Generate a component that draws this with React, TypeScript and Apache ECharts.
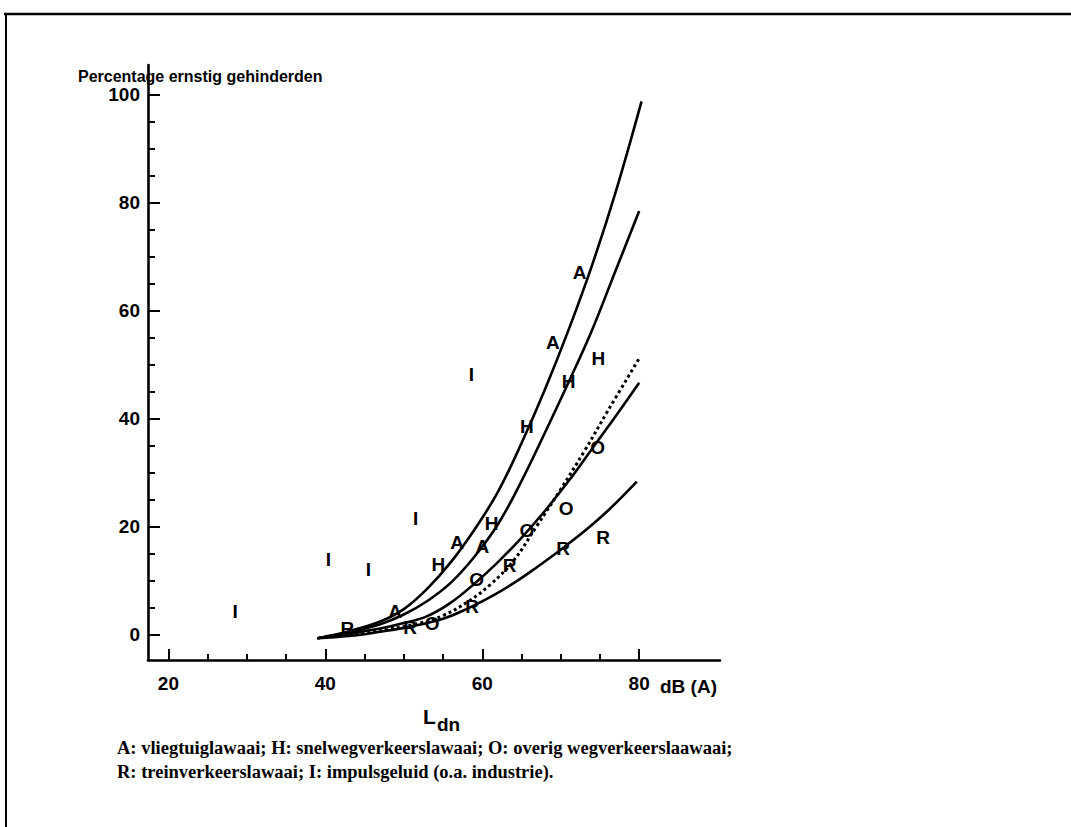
import React, { useEffect, useRef } from "react";
import * as echarts from "echarts";

// ---- Data ----
const xMajorTicks = [20, 40, 60, 80];
const xMinorTicks = [25, 30, 35, 45, 50, 55, 65, 70, 75];
const yMajorTicks = [0, 20, 40, 60, 80, 100];
const yMinorTicks = [5, 10, 15, 25, 30, 35, 45, 50, 55, 65, 70, 75, 85, 90, 95];

// fitted curves (x = Ldn dB(A), y = % highly annoyed)
const curveA = [[39, -0.6], [43, 0.7], [47, 2.5], [50, 4.8], [53, 8.6], [56, 13.5], [59, 19.5], [62, 26.5], [65, 35.5], [68, 45.5], [71, 56.5], [74, 68.5], [77, 82], [80.3, 98.8]];
const curveH = [[39, -0.6], [43, 0.5], [47, 2], [50, 3.8], [53, 6.3], [56, 9.7], [59, 14.5], [62, 20.5], [65, 28.5], [68, 37.5], [71, 46.8], [74, 56.5], [77, 67.5], [80, 78.5]];
const curveO = [[39, -0.6], [43, 0.3], [47, 1.2], [50, 2.2], [53, 3.5], [56, 6], [59, 9.5], [62, 13.5], [65, 18], [68, 23], [71, 28.5], [74, 34.5], [77, 40.5], [80, 46.7]];
const curveDotted = [[40, -0.3], [44, 0.3], [48, 1.1], [52, 2.2], [55, 3.6], [58, 6.0], [61, 9.3], [64, 13.8], [67, 20.3], [70, 27], [73, 34], [76, 41.5], [80, 51.2]];
const curveR = [[39, -0.6], [43, -0.2], [47, 0.6], [51, 1.6], [55, 3.0], [58, 4.8], [61, 7.0], [64, 9.6], [67, 12.6], [70, 15.8], [73, 19.2], [76, 23], [79.7, 28.4]];

// observed points, labelled by source letter
const pointsA = [[72.4, 67.2], [69.0, 54.1], [56.8, 17.2], [60.0, 16.3], [48.9, 4.3]];
const pointsH = [[74.8, 51.2], [71.0, 46.9], [65.7, 38.6], [61.2, 20.6], [54.4, 13.0]];
const pointsO = [[74.7, 34.8], [70.7, 23.5], [65.7, 19.4], [59.3, 10.2], [53.6, 2.2]];
const pointsR = [[75.4, 18.1], [70.3, 16.1], [63.5, 12.8], [58.7, 5.2], [50.8, 1.3], [42.8, 1.2]];
const pointsI = [[28.5, 4.3], [40.4, 13.9], [45.5, 12.2], [51.5, 21.5], [58.6, 48.3]];

const titleText = "Percentage ernstig gehinderden";
const unitText = "dB (A)";
const legendLine1 = "A: vliegtuiglawaai; H: snelwegverkeerslawaai; O: overig wegverkeerslaawaai;";
const legendLine2 = "R: treinverkeerslawaai; I: impulsgeluid (o.a. industrie).";

const SANS = "'Liberation Sans', Arial, Helvetica, sans-serif";
const SERIF = "'Liberation Serif', 'Times New Roman', serif";

function curveSeries(data: number[][], dotted = false) {
  return {
    type: "line",
    data,
    smooth: 0.4,
    showSymbol: false,
    symbol: "none",
    silent: true,
    color: "#000",
    lineStyle: { color: "#000", width: dotted ? 3 : 2.6, type: dotted ? "dotted" : "solid" },
    z: 2,
  };
}

function markerSeries(data: number[][], letter: string) {
  return {
    type: "scatter",
    data,
    symbol: "circle",
    symbolSize: 0,
    color: "#000",
    itemStyle: { color: "#000", opacity: 1 },
    silent: true,
    label: {
      show: true,
      position: "inside",
      formatter: letter,
      color: "#000",
      textBorderWidth: 0,
      textBorderColor: "#000",
      fontFamily: SANS,
      fontSize: 19,
      fontWeight: "bold",
    },
    z: 3,
  };
}

export default function App() {
  const ref = useRef<HTMLDivElement>(null);

  useEffect(() => {
    if (!ref.current) return;
    const chart = echarts.init(ref.current, null, { renderer: "svg" });
    const xMin = 17.4, xMax = 90.3, yMin = -4.63, yMax = 105.55;
    const labelFont = { color: "#000", fontFamily: SANS, fontSize: 19, fontWeight: "bold" };
    const option: any = {
      animation: false,
      backgroundColor: "#fff",
      color: ["#000"],
      grid: { left: 148, top: 65, width: 572, height: 595, containLabel: false },
      xAxis: [
        {
          type: "value", min: xMin, max: xMax, position: "bottom",
          axisLine: { show: true, onZero: false, lineStyle: { color: "#000", width: 2.6 } },
          axisTick: { show: true, inside: true, length: 11, customValues: xMajorTicks, lineStyle: { color: "#000", width: 2 } },
          axisLabel: { show: true, customValues: xMajorTicks, margin: 14, ...labelFont },
          splitLine: { show: false },
        },
        {
          type: "value", min: xMin, max: xMax, position: "bottom", offset: 0,
          axisLine: { show: false, onZero: false },
          axisTick: { show: true, inside: true, length: 6, customValues: xMinorTicks, lineStyle: { color: "#000", width: 2 } },
          axisLabel: { show: false },
          splitLine: { show: false },
        },
      ],
      yAxis: [
        {
          type: "value", min: yMin, max: yMax, position: "left",
          axisLine: { show: true, onZero: false, lineStyle: { color: "#000", width: 2.6 } },
          axisTick: { show: true, inside: true, length: 12, customValues: yMajorTicks, lineStyle: { color: "#000", width: 2 } },
          axisLabel: { show: true, customValues: yMajorTicks, margin: 8, ...labelFont },
          splitLine: { show: false },
        },
        {
          type: "value", min: yMin, max: yMax, position: "left", offset: 0,
          axisLine: { show: false, onZero: false },
          axisTick: { show: true, inside: true, length: 7, customValues: yMinorTicks, lineStyle: { color: "#000", width: 2 } },
          axisLabel: { show: false },
          splitLine: { show: false },
        },
      ],
      series: [
        curveSeries(curveA),
        curveSeries(curveH),
        curveSeries(curveO),
        curveSeries(curveDotted, true),
        curveSeries(curveR),
        markerSeries(pointsA, "A"),
        markerSeries(pointsH, "H"),
        markerSeries(pointsO, "O"),
        markerSeries(pointsR, "R"),
        markerSeries(pointsI, "I"),
      ],
      graphic: [
        { type: "line", shape: { x1: 4, y1: 14, x2: 1071, y2: 14 }, style: { stroke: "#000", lineWidth: 2.5 } },
        { type: "line", shape: { x1: 6, y1: 13, x2: 6, y2: 827 }, style: { stroke: "#000", lineWidth: 2 } },
        { type: "text", x: 78, y: 76, style: { text: titleText, fill: "#000", font: `bold 16px ${SANS}`, textVerticalAlign: "middle" } },
        { type: "text", x: 660, y: 686, style: { text: unitText, fill: "#000", font: `bold 19px ${SANS}`, textVerticalAlign: "middle" } },
        { type: "text", x: 423, y: 716, style: { text: "L", fill: "#000", font: `bold 21px ${SANS}`, textVerticalAlign: "middle" } },
        { type: "text", x: 437, y: 724, style: { text: "dn", fill: "#000", font: `bold 19px ${SANS}`, textVerticalAlign: "middle" } },
        { type: "text", x: 117, y: 748, style: { text: legendLine1, fill: "#000", font: `bold 18.5px ${SERIF}`, textVerticalAlign: "middle" } },
        { type: "text", x: 117, y: 772, style: { text: legendLine2, fill: "#000", font: `bold 18.5px ${SERIF}`, textVerticalAlign: "middle" } },
      ],
    };
    chart.setOption(option);
    return () => chart.dispose();
  }, []);

  return (
    <div
      ref={ref}
      style={{ position: "absolute", left: 0, top: 0, width: 1071, height: 827, background: "#fff" }}
    />
  );
}
